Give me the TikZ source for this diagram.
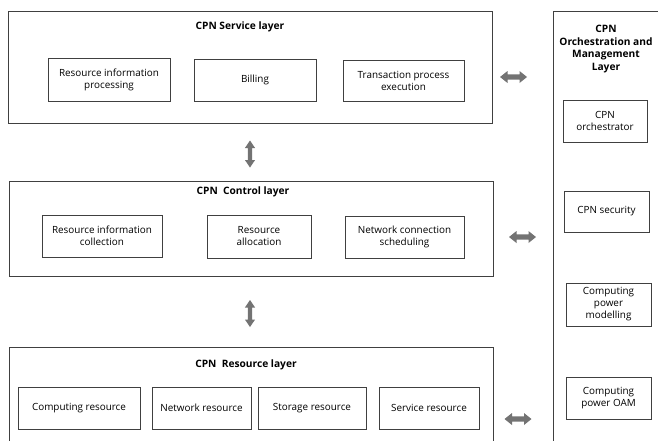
\documentclass[tikz,border=0pt]{standalone}
\usepackage{fontspec}
\setmainfont{Open Sans}
\definecolor{edge}{HTML}{404040}
\definecolor{arrowgray}{HTML}{737373}
\begin{document}
\begin{tikzpicture}[x=1pt,y=-1pt,
  layerbox/.style={draw=edge,line width=0.9pt},
  inner/.style={draw=edge,line width=0.8pt,align=center,font=\fontsize{9.9}{12}\selectfont,inner sep=0pt},
  ltitle/.style={font=\bfseries\fontsize{10.2}{12.5}\selectfont,align=center,inner sep=0pt},
  blockarrow/.pic={\fill[arrowgray] (-13.5,0) -- (-6,-6) -- (-6,-2.6) -- (6,-2.6) -- (6,-6) -- (13.5,0) -- (6,6) -- (6,2.6) -- (-6,2.6) -- (-6,6) -- cycle;}]
\useasboundingbox (0,0) rectangle (658,440);
\clip (0,0) rectangle (658,440);
% layer boxes
\draw[layerbox] (8,11) rectangle (492,123);
\draw[layerbox] (9,181) rectangle (493,276);
\draw[layerbox] (9,347) rectangle (493,460);
\draw[layerbox] (553,11) rectangle (680,460);
% titles
\node[ltitle] (st) at (240,27) {CPN Service layer};
\node[ltitle] (ct) at (243,192) {CPN\ \ Control layer};
\node[ltitle] (rt) at (246,365) {CPN\ \ Resource layer};
\node[ltitle] (ot) at (606,49) {CPN\\Orchestration and\\Management\\Layer};
% service inner
\node[inner,minimum width=122pt,minimum height=43pt] (rip) at (109,79.5) {Resource information\\processing};
\node[inner,minimum width=122pt,minimum height=42pt] (bil) at (255,80) {Billing};
\node[inner,minimum width=121pt,minimum height=41pt] (tpe) at (403.5,80.5) {Transaction process\\execution};
% control inner
\node[inner,minimum width=120pt,minimum height=42pt] (ric) at (102,236) {Resource information\\collection};
\node[inner,minimum width=104pt,minimum height=43pt] (ral) at (259,236.5) {Resource\\allocation};
\node[inner,minimum width=119pt,minimum height=42pt] (ncs) at (404.5,237) {Network connection\\scheduling};
% resource inner
\node[inner,minimum width=122pt,minimum height=42pt] (cr) at (79,408) {Computing resource};
\node[inner,minimum width=99pt,minimum height=42pt] (nr) at (201.5,408) {Network resource};
\node[inner,minimum width=108pt,minimum height=42pt] (sr) at (312,408) {Storage resource};
\node[inner,minimum width=100pt,minimum height=42pt] (svr) at (429,408) {Service resource};
% orchestration inner
\node[inner,minimum width=84pt,minimum height=42pt] (orc) at (605,121) {CPN\\orchestrator};
\node[inner,minimum width=85pt,minimum height=41pt] (sec) at (606.5,211.5) {CPN security};
\node[inner,minimum width=85pt,minimum height=43pt] (mod) at (608.5,304.5) {Computing\\power\\modelling};
\node[inner,minimum width=85pt,minimum height=42pt] (oam) at (608.5,398) {Computing\\power OAM};
% arrows
\pic (a1) at (513.5,77) {blockarrow};
\pic (a2) at (522.5,237) {blockarrow};
\pic (a3) at (518,419) {blockarrow};
\pic[rotate=90,yscale=0.85] (v1) at (250,154) {blockarrow};
\pic[rotate=90,yscale=0.85] (v2) at (250,313.5) {blockarrow};
\end{tikzpicture}
\end{document}
